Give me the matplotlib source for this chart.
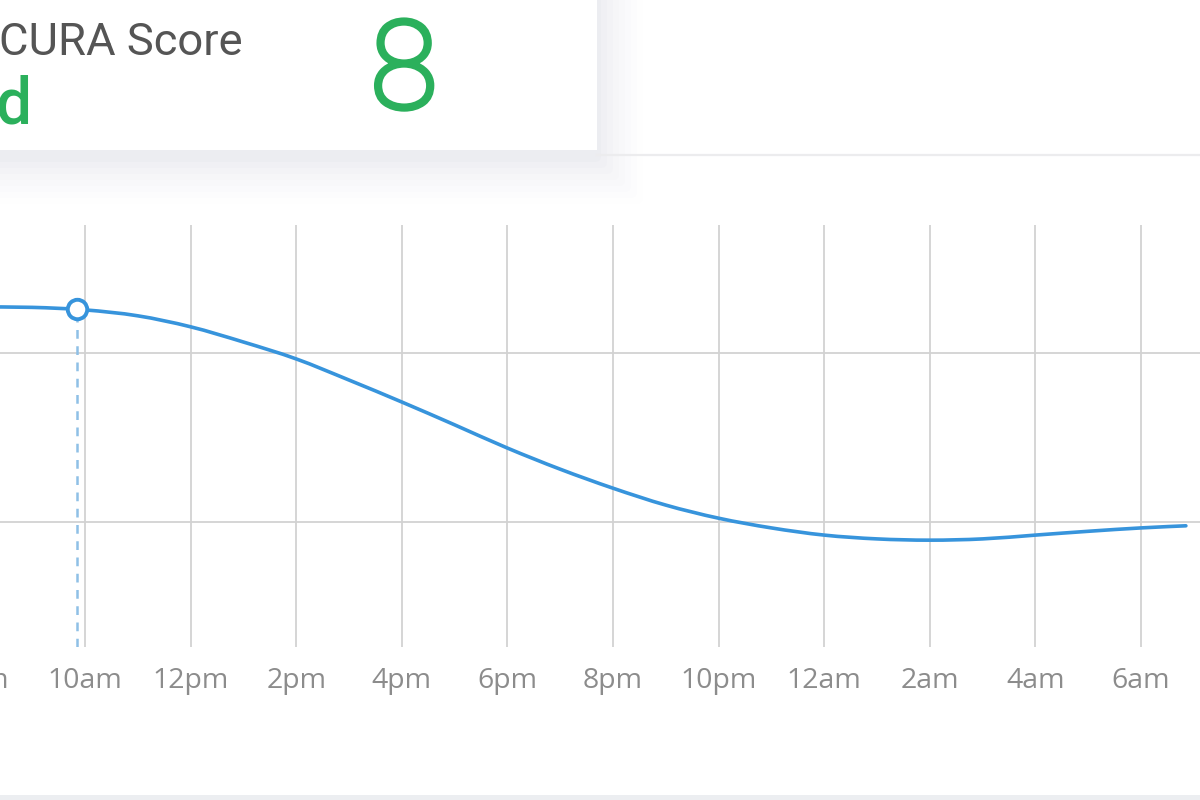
import matplotlib
matplotlib.use("Agg")
import matplotlib.pyplot as plt
from matplotlib.patches import Rectangle, FancyBboxPatch, PathPatch
from matplotlib.path import Path
import matplotlib.transforms as mtransforms
import matplotlib.patheffects as pe

# ---- data ----
hours = [8, 9, 10, 11, 12, 13, 14, 15, 16, 17, 18, 19, 20, 21, 22, 23, 24,
         25, 26, 27, 28, 29, 30, 30.85]
values = [9.09, 9.08, 9.02, 8.88, 8.62, 8.26, 7.86, 7.36, 6.84, 6.30, 5.75,
          5.25, 4.80, 4.40, 4.09, 3.86, 3.69, 3.60, 3.57, 3.60, 3.69, 3.78,
          3.86, 3.91]
tick_hours = [8, 10, 12, 14, 16, 18, 20, 22, 24, 26, 28, 30]
tick_labels = ["8am", "10am", "12pm", "2pm", "4pm", "6pm", "8pm", "10pm",
               "12am", "2am", "4am", "6am"]
y_grid = [4, 8]
now_hour = 9.85
now_value = 9.04
score_title = "CURA Score"
score_status = "d"
score_value = "8"

W, H = 1200, 800
fig = plt.figure(figsize=(12, 8), dpi=100)
fig.patch.set_facecolor("white")

# background / card layer in pixel coordinates
bg = fig.add_axes([0, 0, 1, 1])
bg.set_xlim(0, W)
bg.set_ylim(H, 0)
bg.axis("off")

# card shadow
for i, a in enumerate([0.018, 0.016, 0.014, 0.012, 0.010, 0.008, 0.006, 0.004]):
    g = 4 + i * 6
    bg.add_patch(FancyBboxPatch((-40, -40), 637 + g, 190 + g + 8,
                                boxstyle="round,pad=0,rounding_size=6",
                                facecolor="#5a6a80", edgecolor="none", alpha=a, zorder=1))
bg.add_patch(Rectangle((-40, -40), 637, 190, facecolor="white", edgecolor="none", zorder=2))
# separator line and bottom strip
bg.plot([597, W], [155, 155], color="#ececee", lw=1.6, zorder=1)
bg.add_patch(Rectangle((0, 795), W, 5, facecolor="#eceef1", edgecolor="none", zorder=1))

green = "#2bb05c"
bg.text(-1, 55, score_title, fontsize=32.7, family="Roboto", color="#555555",
        ha="left", va="baseline", zorder=3)
bg.text(-4, 123, score_status, fontsize=46, family="Roboto", fontweight="medium",
        color=green, ha="left", va="baseline", zorder=3)
bg.text(404, 108, score_value, fontsize=88, family="Roboto", fontweight="light",
        color=green, ha="center", va="baseline", zorder=3,
        path_effects=[pe.withStroke(linewidth=3.6, foreground=green)])

# chart axes
px_per_hour = 52.8
x0 = 10 - 85 / px_per_hour
x1 = 10 + (W - 85) / px_per_hour
ax_top, ax_bot = 225, 647
px_per_unit = (522 - 353) / 4.0
y_lo = 4 - (ax_bot - 522) / px_per_unit
y_hi = 8 + (353 - ax_top) / px_per_unit

ax = fig.add_axes([0, 1 - ax_bot / H, 1, (ax_bot - ax_top) / H])
ax.set_facecolor("none")
ax.set_xlim(x0, x1)
ax.set_ylim(y_lo, y_hi)
for s in ax.spines.values():
    s.set_visible(False)
ax.set_xticks([])
ax.set_yticks([])

for h in tick_hours:
    ax.axvline(h, color="#d2d2d2", lw=1.3, zorder=1)
for yv in y_grid:
    ax.axhline(yv, color="#d2d2d2", lw=1.3, zorder=1)

# smooth curve through the data points (Catmull-Rom as cubic Bezier)
pts = list(zip(hours, values))
verts = [pts[0]]
codes = [Path.MOVETO]
n = len(pts)
for i in range(n - 1):
    p0 = pts[i - 1] if i > 0 else pts[i]
    p1 = pts[i]
    p2 = pts[i + 1]
    p3 = pts[i + 2] if i + 2 < n else pts[i + 1]
    c1 = (p1[0] + (p2[0] - p0[0]) / 6, p1[1] + (p2[1] - p0[1]) / 6)
    c2 = (p2[0] - (p3[0] - p1[0]) / 6, p2[1] - (p3[1] - p1[1]) / 6)
    verts += [c1, c2, p2]
    codes += [Path.CURVE4, Path.CURVE4, Path.CURVE4]
ax.add_patch(PathPatch(Path(verts, codes), facecolor="none", edgecolor="#3794dc",
                       lw=2.6, capstyle="round", joinstyle="round", zorder=3))

ax.plot([now_hour, now_hour], [y_lo, now_value], color="#8fc0e6", lw=1.8,
        ls=(0, (3.5, 3)), zorder=2)
ax.plot([now_hour], [now_value], marker="o", markersize=14, markerfacecolor="white",
        markeredgecolor="#3794dc", markeredgewidth=2.8, zorder=4)

trans = mtransforms.blended_transform_factory(ax.transData, fig.transFigure)
for h, lab in zip(tick_hours, tick_labels):
    ax.text(h, 1 - 681 / H, lab, transform=trans, fontsize=20.5, family="Open Sans",
            color="#8c8c8c", ha="center", va="center", clip_on=False)

fig.savefig("out.png", dpi=100, facecolor="white")
